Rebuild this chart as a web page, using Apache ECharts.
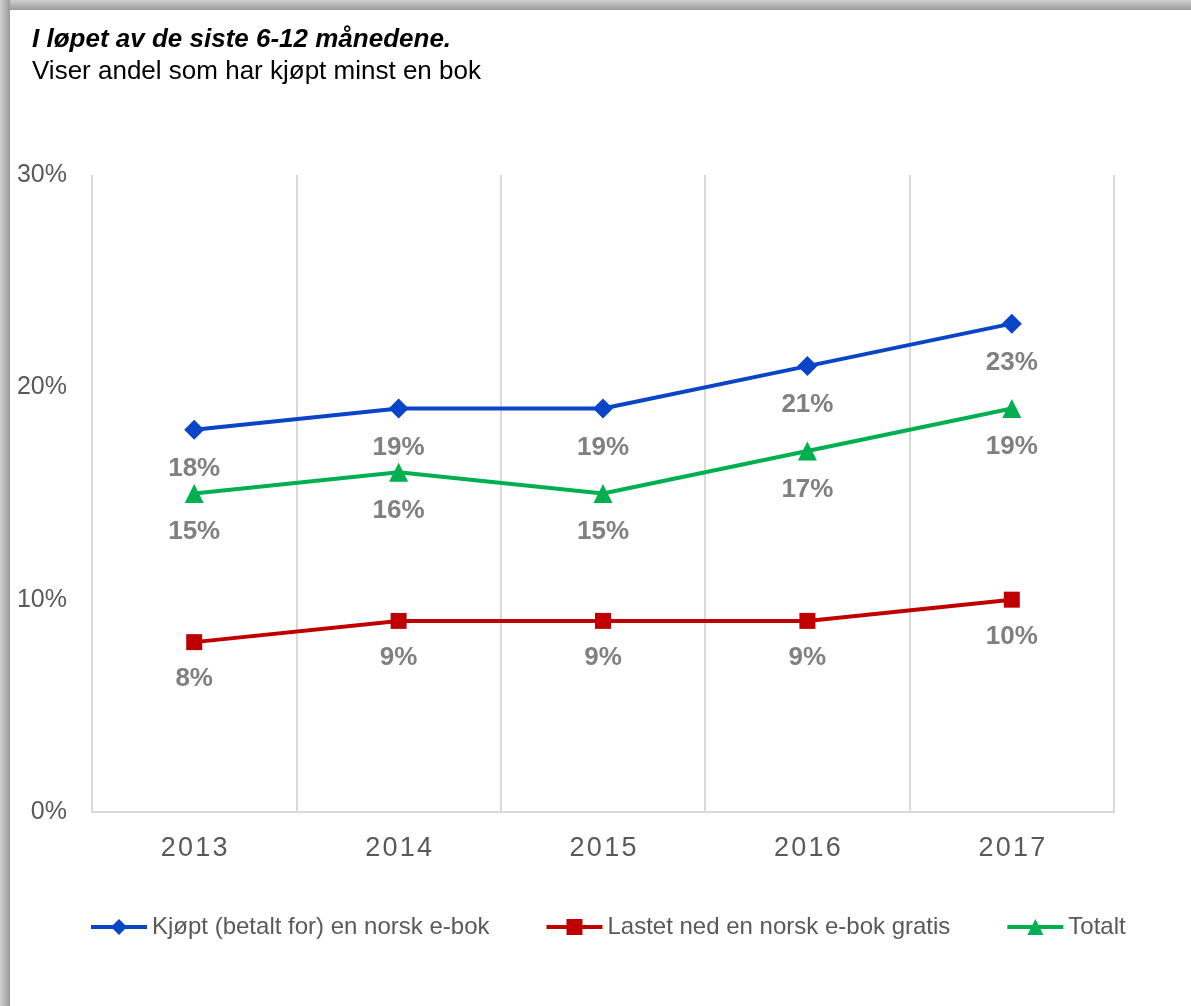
<!DOCTYPE html>
<html>
<head>
<meta charset="utf-8">
<script src="https://cdn.jsdelivr.net/npm/echarts@6/dist/echarts.min.js"></script>
<style>
  html, body { margin: 0; padding: 0; }
  body { width: 1191px; height: 1006px; overflow: hidden; background: #fff; }
  /* grå skyggekant oppe og til venstre */
  .ramme {
    position: absolute; left: 0; top: 0; width: 1191px; height: 1006px;
    background: linear-gradient(to right, #d0d0d0 0px, #9a9a9a 10px, transparent 10px),
                linear-gradient(to bottom, #d0d0d0 0px, #9a9a9a 10px, transparent 10px);
  }
  #chart { position: absolute; left: 10px; top: 10px; width: 1181px; height: 996px; background: #fff; }
</style>
</head>
<body>
<div class="ramme"></div>
<div id="chart"></div>
<script>
// data lest av figuren
var aar = ['2013', '2014', '2015', '2016', '2017'];
var kjopt = [18, 19, 19, 21, 23];
var lastetNed = [8, 9, 9, 9, 10];
var totalt = [15, 16, 15, 17, 19];
var serieNavn = ['Kjøpt (betalt for) en norsk e-bok', 'Lastet ned en norsk e-bok gratis', 'Totalt'];
var farger = ['#0a45c8', '#c00000', '#00b050'];

var myChart = echarts.init(document.getElementById('chart'));

function lagSerie(navn, data, farge, symbol, size) {
  return {
    name: navn,
    type: 'line',
    data: data,
    symbol: symbol,
    symbolSize: size,
    lineStyle: { color: farge, width: 4 },
    itemStyle: { color: farge },
    label: {
      show: true,
      position: 'bottom',
      distance: 16,
      formatter: '{c}%',
      color: '#808080',
      fontSize: 26,
      fontWeight: 'bold',
      fontFamily: 'Liberation Sans, Arial'
    },
    emphasis: { disabled: true }
  };
}

var option = {
  animation: false,
  title: {
    text: 'I løpet av de siste 6-12 månedene.',
    subtext: 'Viser andel som har kjøpt minst en bok',
    left: 17,
    top: 12,
    itemGap: 6,
    textStyle: { fontFamily: 'Liberation Sans, Arial', fontSize: 26, fontWeight: 'bold', fontStyle: 'italic', color: '#000' },
    subtextStyle: { fontFamily: 'Liberation Sans, Arial', fontSize: 26, color: '#000' }
  },
  legend: {
    left: 74,
    top: 900,
    itemWidth: 56,
    itemHeight: 20,
    itemGap: 55,
    lineStyle: { width: 4 },
    textStyle: { fontFamily: 'Liberation Sans, Arial', fontSize: 24, color: '#595959' },
    data: serieNavn
  },
  grid: { left: 82, right: 77, top: 165, bottom: 194 },
  xAxis: {
    type: 'category',
    data: aar,
    boundaryGap: true,
    axisLine: { lineStyle: { color: '#d9d9d9', width: 2 } },
    axisTick: { show: false },
    splitLine: { show: true, lineStyle: { color: '#d9d9d9', width: 2 } },
    axisLabel: {
      margin: 23,
      color: '#595959',
      fontSize: 27,
      fontFamily: 'Liberation Sans, Arial',
      formatter: function (v) { return v.split('').join('\u200a'); }
    }
  },
  yAxis: {
    type: 'value',
    min: 0,
    max: 30,
    interval: 10,
    axisLine: { show: false },
    axisTick: { show: false },
    splitLine: { show: false },
    axisLabel: {
      margin: 25,
      color: '#595959',
      fontSize: 25,
      fontFamily: 'Liberation Sans, Arial',
      formatter: '{value}%'
    }
  },
  series: [
    lagSerie(serieNavn[0], kjopt, farger[0], 'diamond', 20),
    lagSerie(serieNavn[1], lastetNed, farger[1], 'rect', 16),
    lagSerie(serieNavn[2], totalt, farger[2], 'triangle', 19)
  ]
};

myChart.setOption(option);
</script>
</body>
</html>
